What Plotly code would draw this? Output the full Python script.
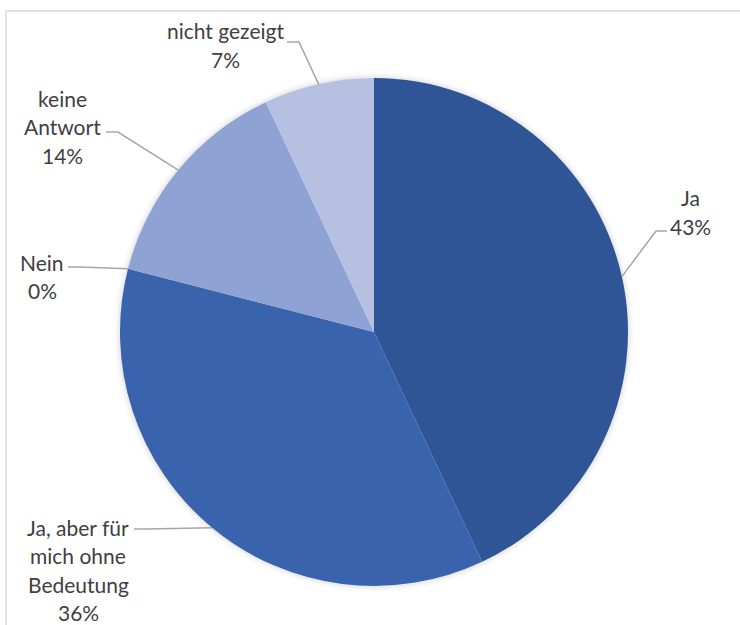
import math
import plotly.graph_objects as go

# Survey answers and their shares (percent)
labels = ["Ja", "Ja, aber für mich ohne Bedeutung", "Nein", "keine Antwort", "nicht gezeigt"]
shares = [43, 36, 0, 14, 7]
label_lines = [
    ["Ja"],
    ["Ja, aber für", "mich ohne", "Bedeutung"],
    ["Nein"],
    ["keine", "Antwort"],
    ["nicht gezeigt"],
]
colors = ["#2F5597", "#3A63AD", "#3A63AD", "#8FA2D4", "#B6C1E1"]

W, H = 740, 625
CX, CY, R = 374, 332, 254          # pie centre and radius in pixels
LINE_H = 28.5                       # spacing between label lines
TEXT_COLOR = "#404040"
FONT = "Lato"

# label block (centre x, first-line y) and leader line (end near text, knee)
label_layout = [
    dict(x=690, y=198, end=(667, 231), knee=(656, 231)),
    dict(x=78, y=527, end=(134, 529), knee=(147, 529)),
    dict(x=42, y=262, end=(68, 267), knee=(80, 267)),
    dict(x=62, y=98, end=(106, 132), knee=(118, 132)),
    dict(x=225, y=31, end=(287, 42), knee=(299, 42)),
]


def px(x):
    return x / W


def py(y):
    return 1 - y / H


fig = go.Figure(
    go.Pie(
        labels=labels,
        values=shares,
        sort=False,
        direction="clockwise",
        rotation=0,
        marker=dict(colors=colors, line=dict(width=0)),
        textinfo="none",
        hoverinfo="label+percent",
        showlegend=False,
        domain=dict(
            x=[px(CX - R), px(CX + R)],
            y=[py(CY + R), py(CY - R)],
        ),
    )
)

shapes = []

# soft halo behind the pie
for k, a in [(6, 0.015), (4, 0.025), (2, 0.04)]:
    shapes.append(dict(
        type="circle", xref="paper", yref="paper", layer="below",
        x0=px(CX - R - k), x1=px(CX + R + k),
        y0=py(CY + R + k), y1=py(CY - R - k),
        fillcolor=f"rgba(0,0,0,{a})", line=dict(width=0),
    ))

# chart frame
shapes.append(dict(
    type="rect", xref="paper", yref="paper", layer="below",
    x0=px(6), x1=px(W + 20), y0=py(H + 20), y1=py(11),
    line=dict(color="#d9d9d9", width=1.5), fillcolor="rgba(0,0,0,0)",
))

annotations = []
total = sum(shares)
cum = 0.0
for lab_lines, val, lay in zip(label_lines, shares, label_layout):
    mid = (cum + val / 2) / total * 2 * math.pi
    cum += val
    ex = CX + R * math.sin(mid)
    ey = CY - R * math.cos(mid)
    path = (
        f"M {px(lay['end'][0])},{py(lay['end'][1])} "
        f"L {px(lay['knee'][0])},{py(lay['knee'][1])} "
        f"L {px(ex)},{py(ey)}"
    )
    shapes.append(dict(
        type="path", xref="paper", yref="paper", path=path,
        line=dict(color="#a6a6a6", width=1.5),
    ))
    lines = lab_lines + [f"{val}%"]
    for i, t in enumerate(lines):
        annotations.append(dict(
            x=px(lay["x"]), y=py(lay["y"] + i * LINE_H),
            xref="paper", yref="paper", text=t, showarrow=False,
            xanchor="center", yanchor="middle",
            font=dict(family=FONT, size=21, color=TEXT_COLOR),
        ))

fig.update_layout(
    width=W, height=H,
    margin=dict(l=0, r=0, t=0, b=0),
    paper_bgcolor="white",
    plot_bgcolor="white",
    shapes=shapes,
    annotations=annotations,
)

fig.write_html("out.html")
